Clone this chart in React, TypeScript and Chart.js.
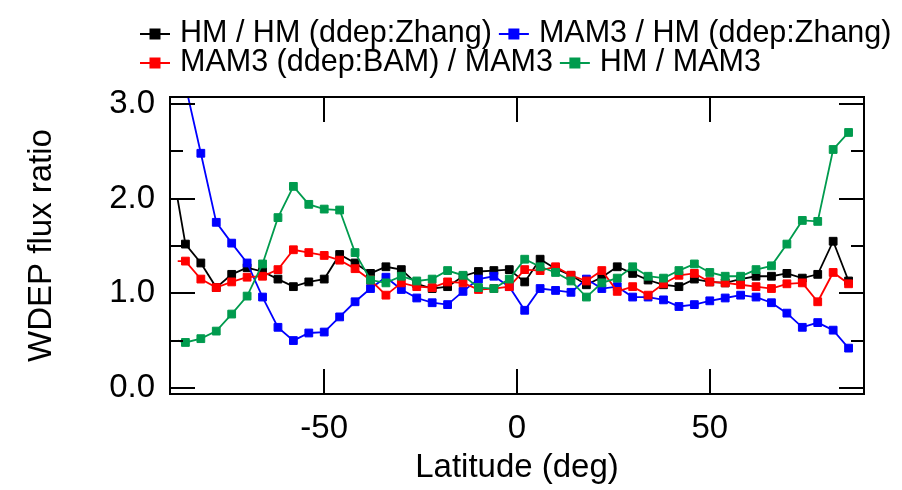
import React, { useEffect, useRef } from 'react';
import { Chart, registerables } from 'chart.js';

Chart.register(...registerables);

const FONT = "'Liberation Sans', Arial, sans-serif";

// Latitude of each sample (deg). The first one only carries the line stub (no marker).
const latitudes = [
  -88, -86, -82, -78, -74, -70, -66, -62, -58, -54, -50, -46, -42, -38, -34, -30, -26, -22, -18, -14, -10, -6, -2,
  2, 6, 10, 14, 18, 22, 26, 30, 34, 38, 42, 46, 50, 54, 58, 62, 66, 70, 74, 78, 82, 86,
];

const hmHmZhang = [
  1.99, 1.52, 1.32, 1.06, 1.2, 1.27, 1.23, 1.15, 1.07, 1.12, 1.15, 1.41, 1.32, 1.21, 1.28, 1.25, 1.1, 1.05, 1.07, 1.18,
  1.23, 1.24, 1.25, 1.12, 1.36, 1.26, 1.19, 1.09, 1.17, 1.28, 1.21, 1.14, 1.09, 1.07, 1.15, 1.12, 1.11, 1.15, 1.18,
  1.18, 1.21, 1.16, 1.2, 1.55, 1.13,
];

const mam3HmZhang = [
  3.6, 3.2, 2.48, 1.75, 1.53, 1.32, 0.96, 0.64, 0.5, 0.58, 0.59, 0.75, 0.91, 1.05, 1.17, 1.04, 0.95, 0.9, 0.88, 1.02,
  1.15, 1.18, 1.07, 0.82, 1.05, 1.03, 1.01, 1.15, 1.05, 1.07, 0.96, 0.96, 0.93, 0.86, 0.88, 0.92, 0.95, 0.98, 0.96,
  0.9, 0.79, 0.64, 0.69, 0.61, 0.42,
];

const mam3BamMam3 = [
  1.34, 1.34, 1.15, 1.06, 1.12, 1.17, 1.18, 1.25, 1.46, 1.43, 1.4, 1.35, 1.26, 1.14, 0.98, 1.11, 1.07, 1.06, 1.12, 1.11,
  1.04, 1.05, 1.07, 1.25, 1.24, 1.28, 1.19, 1.13, 1.24, 1.02, 1.07, 0.98, 1.1, 1.19, 1.21, 1.12, 1.11, 1.09, 1.07,
  1.05, 1.1, 1.11, 0.91, 1.22, 1.1,
];

const hmMam3 = [
  0.5, 0.48, 0.52, 0.6, 0.78, 0.97, 1.31, 1.8, 2.13, 1.94, 1.89, 1.88, 1.43, 1.14, 1.11, 1.18, 1.13, 1.15, 1.24, 1.19,
  1.06, 1.05, 1.15, 1.36, 1.28, 1.22, 1.13, 0.96, 1.11, 1.16, 1.28, 1.18, 1.16, 1.24, 1.31, 1.22, 1.18, 1.18, 1.25,
  1.29, 1.52, 1.77, 1.76, 2.52, 2.7,
];

const seriesNames = ['HM / HM (ddep:Zhang)', 'MAM3 / HM (ddep:Zhang)', 'MAM3 (ddep:BAM) / MAM3', 'HM / MAM3'];
const seriesColors = ['#000000', '#0000FF', '#FF0000', '#009B4E'];
const seriesValues = [hmHmZhang, mam3HmZhang, mam3BamMam3, hmMam3];

const xTickValues = [-50, 0, 50];
const yTickValues = [0, 1, 2, 3];
const yMinorTickValues = [0.5, 1.5, 2.5];

const legendRows = [
  [0, 1],
  [2, 3],
];

const framePlugin = {
  id: 'frameAndLegend',
  afterDatasetsDraw(chart: any) {
    const { ctx, chartArea: a, scales } = chart;
    const xs = scales.x;
    const ys = scales.y;
    ctx.save();
    ctx.strokeStyle = '#000';
    ctx.lineWidth = 2;
    ctx.strokeRect(a.left, a.top, a.right - a.left, a.bottom - a.top);
    ctx.beginPath();
    for (const v of yTickValues) {
      const py = Math.round(ys.getPixelForValue(v));
      ctx.moveTo(a.left, py);
      ctx.lineTo(a.left + 25, py);
      ctx.moveTo(a.right, py);
      ctx.lineTo(a.right - 25, py);
    }
    for (const v of yMinorTickValues) {
      const py = Math.round(ys.getPixelForValue(v));
      ctx.moveTo(a.left, py);
      ctx.lineTo(a.left + 13, py);
      ctx.moveTo(a.right, py);
      ctx.lineTo(a.right - 13, py);
    }
    for (const v of xTickValues) {
      const px = Math.round(xs.getPixelForValue(v));
      ctx.moveTo(px, a.bottom);
      ctx.lineTo(px, a.bottom - 25);
      ctx.moveTo(px, a.top);
      ctx.lineTo(px, a.top + 25);
    }
    ctx.stroke();
    ctx.restore();
  },
  afterDraw(chart: any) {
    const { ctx } = chart;
    ctx.save();
    ctx.font = `30.5px ${FONT}`;
    ctx.textBaseline = 'middle';
    ctx.textAlign = 'left';
    const rowY = [26, 55];
    legendRows.forEach((row, r) => {
      let x = 132;
      const y = rowY[r];
      row.forEach((idx) => {
        const c = seriesColors[idx];
        ctx.strokeStyle = c;
        ctx.lineWidth = 2;
        ctx.beginPath();
        ctx.moveTo(x, y);
        ctx.lineTo(x + 30, y);
        ctx.stroke();
        ctx.fillStyle = c;
        ctx.fillRect(x + 15 - 5.5, y - 5.5, 11, 11);
        ctx.fillStyle = '#000';
        ctx.fillText(seriesNames[idx], x + 40, y);
        x += 40 + ctx.measureText(seriesNames[idx]).width + 7;
      });
    });
    ctx.restore();
  },
};

export default function App() {
  const ref = useRef<HTMLCanvasElement>(null);

  useEffect(() => {
    if (!ref.current) return;
    const orders = [4, 3, 2, 1];
    const chart = new Chart(ref.current, {
      type: 'line',
      data: {
        datasets: seriesValues.map((vals, s) => ({
          label: seriesNames[s],
          data: latitudes.map((lat, i) => ({ x: lat, y: vals[i] })),
          borderColor: seriesColors[s],
          backgroundColor: seriesColors[s],
          borderWidth: 1.8,
          pointStyle: 'rect',
          pointRadius: (ctx: any) => (ctx.dataIndex === 0 ? 0 : 5.5),
          pointHoverRadius: (ctx: any) => (ctx.dataIndex === 0 ? 0 : 5.5),
          pointBorderWidth: 1,
          pointBackgroundColor: seriesColors[s],
          pointBorderColor: seriesColors[s],
          tension: 0,
          clip: 0,
          order: orders[s],
        })),
      },
      options: {
        animation: false,
        responsive: true,
        maintainAspectRatio: false,
        events: [],
        layout: { padding: { top: 89, right: 38, left: 0, bottom: 0 } },
        plugins: { legend: { display: false }, tooltip: { enabled: false } },
        scales: {
          x: {
            type: 'linear',
            min: -90,
            max: 90,
            grid: { display: false, drawTicks: false },
            border: { display: false },
            afterBuildTicks: (s: any) => {
              s.ticks = xTickValues.map((v) => ({ value: v }));
            },
            afterFit: (s: any) => {
              s.height = 96;
            },
            ticks: {
              color: '#000',
              font: { family: FONT, size: 33 },
              padding: 15,
              maxRotation: 0,
              autoSkip: false,
              callback: (v: any) => String(v),
            },
            title: {
              display: true,
              text: 'Latitude (deg)',
              color: '#000',
              font: { family: FONT, size: 33, lineHeight: 1 },
              padding: { top: 0, bottom: 6 },
            },
          },
          y: {
            type: 'linear',
            min: -0.065,
            max: 3.075,
            grid: { display: false, drawTicks: false },
            border: { display: false },
            afterBuildTicks: (s: any) => {
              s.ticks = yTickValues.map((v) => ({ value: v }));
            },
            afterFit: (s: any) => {
              s.width = 162;
            },
            ticks: {
              color: '#000',
              font: { family: FONT, size: 33 },
              padding: 15,
              autoSkip: false,
              callback: (v: any) => Number(v).toFixed(1),
            },
            title: {
              display: true,
              text: 'WDEP flux ratio',
              color: '#000',
              font: { family: FONT, size: 33, lineHeight: 1 },
              padding: { top: 17, bottom: 0 },
            },
          },
        },
      },
      plugins: [framePlugin],
    } as any);
    return () => chart.destroy();
  }, []);

  return (
    <div style={{ position: 'relative', width: 894, height: 482 }}>
      <canvas ref={ref} />
    </div>
  );
}
